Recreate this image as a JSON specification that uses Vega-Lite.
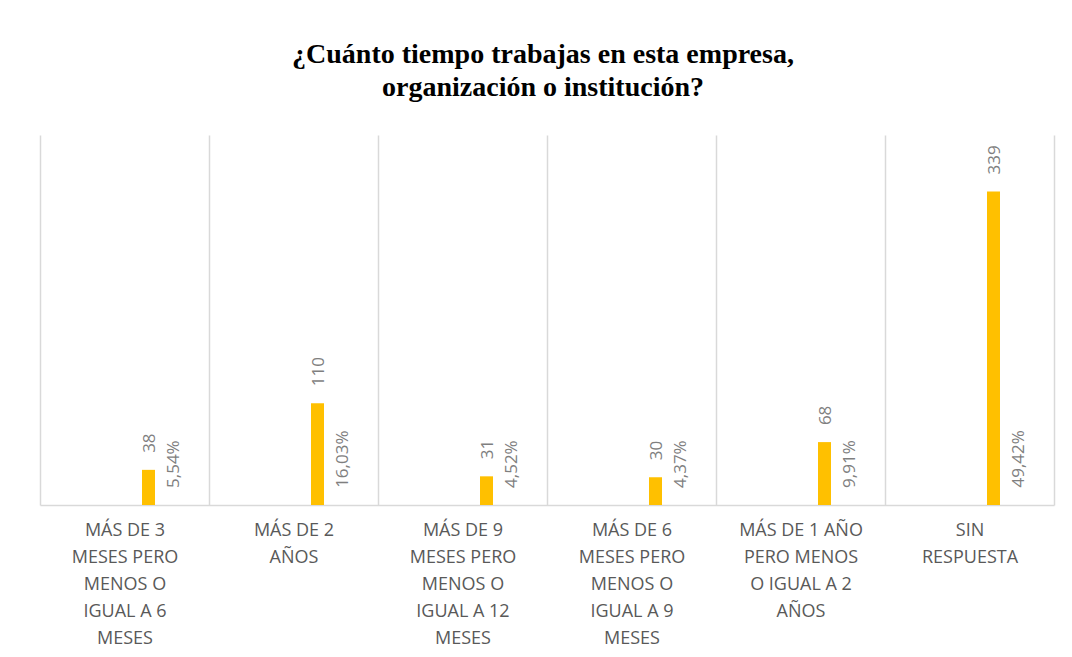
{
  "$schema": "https://vega.github.io/schema/vega-lite/v6.json",
  "width": 1014,
  "height": 370,
  "autosize": {"type": "none"},
  "padding": {"left": 40, "top": 135, "right": 18, "bottom": 152},
  "background": "#ffffff",
  "config": {
    "view": {"stroke": null},
    "locale": {"number": {"decimal": ",", "thousands": ".", "grouping": [3], "currency": ["", " €"]}}
  },
  "title": {
    "text": ["¿Cuánto tiempo trabajas en esta empresa,", "organización o institución?"],
    "font": "Liberation Serif",
    "fontSize": 28,
    "fontWeight": "bold",
    "color": "#000000",
    "anchor": "middle",
    "lineHeight": 33,
    "offset": 33,
    "dx": -4
  },
  "data": {
    "values": [
      {"cat": "MÁS DE 3|MESES PERO|MENOS O|IGUAL A 6|MESES", "count": 38, "pct": 0.0554},
      {"cat": "MÁS DE 2|AÑOS", "count": 110, "pct": 0.1603},
      {"cat": "MÁS DE 9|MESES PERO|MENOS O|IGUAL A 12|MESES", "count": 31, "pct": 0.0452},
      {"cat": "MÁS DE 6|MESES PERO|MENOS O|IGUAL A 9|MESES", "count": 30, "pct": 0.0437},
      {"cat": "MÁS DE 1 AÑO|PERO MENOS|O IGUAL A 2|AÑOS", "count": 68, "pct": 0.0991},
      {"cat": "SIN|RESPUESTA", "count": 339, "pct": 0.4942}
    ]
  },
  "encoding": {
    "x": {
      "field": "cat",
      "type": "nominal",
      "sort": null,
      "scale": {"paddingInner": 0, "paddingOuter": 0},
      "axis": {
        "title": null,
        "labelAngle": 0,
        "labelExpr": "split(datum.label, '|')",
        "labelFont": "Open Sans",
        "labelFontSize": 18,
        "labelColor": "#595959",
        "labelLineHeight": 27,
        "labelPadding": 16,
        "labelLimit": 0,
        "ticks": false,
        "tickBand": "extent",
        "grid": true,
        "gridColor": "#d9d9d9",
        "gridWidth": 1.5,
        "domainColor": "#d9d9d9",
        "domainWidth": 1.5
      }
    }
  },
  "layer": [
    {
      "mark": {"type": "bar", "color": "#FFC000", "size": 13, "xOffset": 24},
      "encoding": {
        "y": {"field": "count", "type": "quantitative", "scale": {"domain": [0, 400]}, "axis": null}
      }
    },
    {
      "mark": {"type": "text", "angle": 270, "align": "left", "baseline": "middle", "xOffset": 25, "yOffset": -17, "font": "Open Sans", "fontSize": 17, "color": "#7f7f7f"},
      "encoding": {
        "y": {"field": "count", "type": "quantitative"},
        "text": {"field": "count", "type": "quantitative"}
      }
    },
    {
      "mark": {"type": "text", "angle": 270, "align": "left", "baseline": "middle", "xOffset": 49, "yOffset": -17, "font": "Open Sans", "fontSize": 17, "color": "#7f7f7f"},
      "encoding": {
        "y": {"field": "pct", "type": "quantitative"},
        "text": {"field": "pct", "type": "quantitative", "format": ".2%"}
      }
    }
  ]
}
